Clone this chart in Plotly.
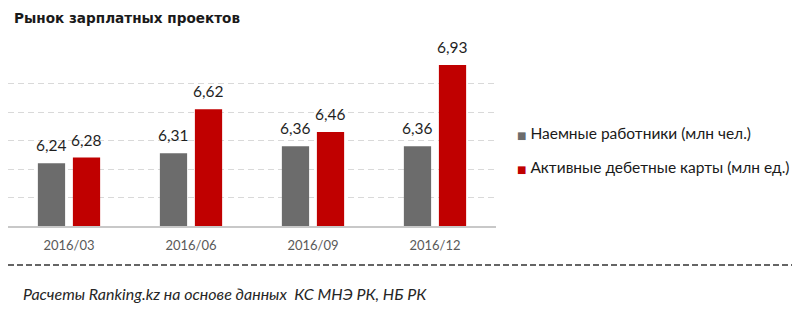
import plotly.graph_objects as go

categories = ["2016/03", "2016/06", "2016/09", "2016/12"]
employees = [6.24, 6.31, 6.36, 6.36]
cards = [6.28, 6.62, 6.46, 6.93]
series_names = ["Наемные работники (млн чел.)", "Активные дебетные карты (млн ед.)"]
series_colors = ["#6c6c6c", "#c00000"]
title_text = "Рынок зарплатных проектов"
source_text = "Расчеты Ranking.kz на основе данных  КС МНЭ РК, НБ РК"

W, H = 800, 312
ml, mr, mt, mb = 8, 304, 55, 86
pw = W - ml - mr
ph = H - mt - mb

def px_x(x):
    return (x - ml) / pw

def px_y(y):
    return (H - mb - y) / ph

series = [employees, cards]
offsets = [-17.3, 17.3]

fig = go.Figure()
for name, vals, col in zip(series_names, series, series_colors):
    fig.add_trace(go.Bar(
        x=categories, y=vals, name=name,
        marker=dict(color=col, line=dict(width=0)),
        showlegend=False,
    ))

annotations = []
for vals, off in zip(series, offsets):
    for c, v in zip(categories, vals):
        annotations.append(dict(
            x=c, y=v, xref="x", yref="y", text=f"{v:.2f}".replace(".", ","),
            showarrow=False, xshift=off, yshift=18, yanchor="middle",
            font=dict(family="Lato", size=15.5, color="#1f1f1f"),
        ))

legend_rows = [133, 167]
for name, col, ry in zip(series_names, series_colors, legend_rows):
    annotations.append(dict(
        text=f"<span style='font-family:DejaVu Sans;font-size:10px;color:{col}'>■</span> {name}",
        xref="paper", yref="paper", x=px_x(515), y=px_y(ry),
        xanchor="left", yanchor="middle", showarrow=False,
        font=dict(family="Lato", size=15.5, color="#1a1a1a"),
    ))

annotations += [
    dict(text="<b>" + title_text + "</b>", xref="paper", yref="paper",
         x=px_x(12), y=px_y(18), xanchor="left", yanchor="middle",
         showarrow=False, font=dict(family="DejaVu Sans", size=13.6, color="#1a1a1a")),
    dict(text="<i>" + source_text + "</i>", xref="paper", yref="paper",
         x=px_x(21), y=px_y(293), xanchor="left", yanchor="middle",
         showarrow=False, font=dict(family="Lato", size=16, color="#262626")),
]

fig.update_layout(
    width=W, height=H,
    margin=dict(l=ml, r=mr, t=mt, b=mb),
    paper_bgcolor="white", plot_bgcolor="white",
    barmode="group", bargap=0.426, bargroupgap=0.222,
    font=dict(family="Lato", color="#262626"),
    showlegend=False,
    annotations=annotations,
    shapes=[
        dict(type="line", xref="paper", yref="paper",
             x0=px_x(8), x1=px_x(792), y0=px_y(265), y1=px_y(265),
             line=dict(color="#333333", width=1.5, dash="6px,3px")),
    ],
)
fig.update_xaxes(
    showline=True, linecolor="#c8c8c8", linewidth=2,
    showgrid=False, ticks="", ticklabelstandoff=6,
    tickfont=dict(family="Lato", size=13, color="#595959"),
)
fig.update_yaxes(
    range=[5.8, 7.0], dtick=0.2, tick0=5.8,
    showticklabels=False, showgrid=True, gridcolor="#d9d9d9", gridwidth=1,
    griddash="6px,4px", zeroline=False, showline=False,
)

fig.write_html("out.html")
